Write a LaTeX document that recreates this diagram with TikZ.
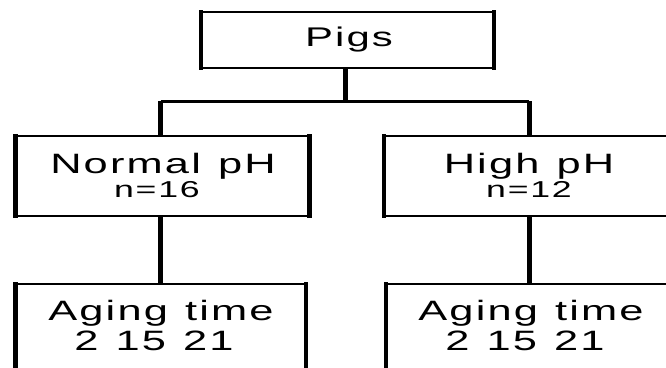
\documentclass[tikz,border=0pt]{standalone}
\usepackage{fontspec}
\setmainfont{Liberation Sans}[LetterSpace=5,WordSpace=1.2]
% horizontally widened label text
\newcommand{\widetxt}[1]{\scalebox{1.55}[1]{#1}}
\begin{document}
\begin{tikzpicture}[x=1pt,y=-1pt,
  boxnode/.style 2 args={draw=none,inner sep=0pt,outer sep=0pt,
    minimum width=#1,minimum height=#2},
  hedge/.style={line width=2.5pt},
  vedge/.style={line width=4.5pt,line cap=rect},
  hconn/.style={line width=3pt},
  vconn/.style={line width=5pt},
  lbl/.style={anchor=base,inner sep=0pt,text=black},
  big/.style={font=\fontsize{28}{33}\selectfont},
  mid/.style={font=\fontsize{27}{32}\selectfont},
  small/.style={font=\fontsize{23}{27}\selectfont}]
\path[use as bounding box,clip] (0,0) rectangle (666,367);
\fill[white] (0,0) rectangle (666,367);

% boxes
\node[boxnode={293pt}{56pt}]   (pigs)   at (347.5,40) {};
\node[boxnode={294pt}{80pt}]   (normal) at (162.5,176) {};
\node[boxnode={291pt}{80pt}]   (high)   at (529.5,176) {};
\node[boxnode={290.5pt}{116pt}] (agel)  at (160.75,342) {};
\node[boxnode={289pt}{116pt}]  (ager)   at (530.5,342) {};

\foreach \b in {pigs,normal,high,agel,ager}{
  \draw[hedge] (\b.north west) -- (\b.north east);
  \draw[hedge] (\b.south west) -- (\b.south east);
  \draw[vedge] (\b.north west) -- (\b.south west);
  \draw[vedge] (\b.north east) -- (\b.south east);
}

% connectors
\coordinate (bar)  at (345.5,101);
\coordinate (barL) at (160.5,101);
\coordinate (barR) at (529,101);
\draw[vconn] (pigs.south -| bar) -- (bar);
\draw[hconn] (barL) -- (barR);
\draw[vconn] (barL) -- (barL |- normal.north);
\draw[vconn] (barR) -- (barR |- high.north);
\draw[vconn] (normal.south -| barL) -- (barL |- agel.north);
\draw[vconn] (high.south -| barR) -- (barR |- ager.north);

% labels
\node[lbl,mid]   (tpigs)  at (349,46)  {\widetxt{Pigs}};
\node[lbl,big]   (tnorm)  at (163,173) {\widetxt{Normal pH}};
\node[lbl,small] (tn16)   at (157,197) {\widetxt{n=16}};
\node[lbl,big]   (thigh)  at (529,173) {\widetxt{High pH}};
\node[lbl,small] (tn12)   at (529,197) {\widetxt{n=12}};
\node[lbl,big]   (tagel)  at (161,320) {\widetxt{Aging time}};
\node[lbl,big]   (tdayl)  at (154,350) {\widetxt{2 15 21}};
\node[lbl,big]   (tager)  at (531,320) {\widetxt{Aging time}};
\node[lbl,big]   (tdayr)  at (525,350) {\widetxt{2 15 21}};
\end{tikzpicture}
\end{document}
